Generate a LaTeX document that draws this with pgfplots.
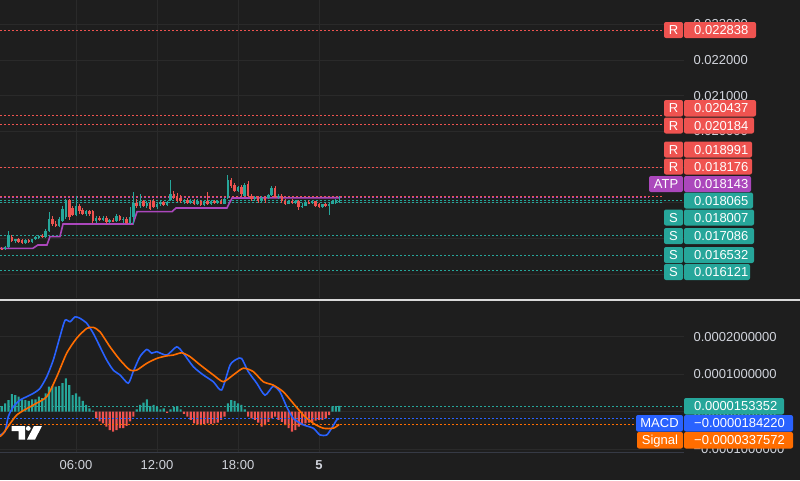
\documentclass[border=0pt]{standalone}
\usepackage{pgfplots}
\pgfplotsset{compat=1.18}
\usepackage{pgfplotstable}
\usepackage{fontspec}
\setmainfont{Liberation Sans}

\definecolor{bg}{HTML}{1E1E1E}
\definecolor{gridc}{HTML}{2A2A2A}
\definecolor{up}{HTML}{26A69A}
\definecolor{dn}{HTML}{EF5350}
\definecolor{atp}{HTML}{AB47BC}
\definecolor{macdc}{HTML}{2962FF}
\definecolor{sigc}{HTML}{FF6D00}
\definecolor{txt}{HTML}{D1D4DC}
\definecolor{sep}{HTML}{D9D9D9}
\definecolor{edge}{HTML}{363A45}

% 15 min candles: time (h), open, high, low, close, MACD histogram
\pgfplotstableread{
t o h l c m
0.50 0.016720 0.016760 0.016690 0.016700 0.000015
0.75 0.016700 0.016780 0.016690 0.016760 0.000022
1.00 0.016770 0.017220 0.016750 0.017090 0.000031
1.25 0.017040 0.017100 0.016900 0.016920 0.000047
1.50 0.016920 0.017000 0.016880 0.016980 0.000044
1.75 0.016980 0.017020 0.016880 0.016900 0.000040
2.00 0.016960 0.017000 0.016850 0.016880 0.000033
2.25 0.016880 0.016990 0.016860 0.016960 0.000031
2.50 0.016960 0.016990 0.016880 0.016910 0.000029
2.75 0.016910 0.017000 0.016890 0.016980 0.000033
3.00 0.016980 0.017080 0.016950 0.017050 0.000033
3.25 0.017020 0.017100 0.016980 0.017080 0.000040
3.50 0.017080 0.017120 0.017020 0.017050 0.000036
3.75 0.017050 0.017260 0.017030 0.017220 0.000049
4.00 0.017220 0.017740 0.017180 0.017560 0.000067
4.25 0.017560 0.017620 0.017360 0.017400 0.000068
4.50 0.017420 0.017480 0.017330 0.017360 0.000067
4.75 0.017360 0.017600 0.017330 0.017540 0.000068
5.00 0.017480 0.017900 0.017460 0.017820 0.000076
5.25 0.017600 0.018120 0.017560 0.018080 0.000089
5.50 0.018080 0.018100 0.017520 0.017600 0.000071
5.75 0.017860 0.017900 0.017620 0.017660 0.000044
6.00 0.017660 0.018180 0.017640 0.017900 0.000049
6.25 0.017900 0.017960 0.017700 0.017760 0.000040
6.50 0.017800 0.017850 0.017660 0.017700 0.000029
6.75 0.017700 0.017800 0.017640 0.017760 0.000018
7.00 0.017760 0.017800 0.017620 0.017680 0.000009
7.25 0.017760 0.017800 0.017440 0.017480 0.000003
7.50 0.017480 0.017620 0.017440 0.017580 -0.000017
7.75 0.017580 0.017640 0.017480 0.017520 -0.000026
8.00 0.017520 0.017640 0.017480 0.017580 -0.000031
8.25 0.017580 0.017620 0.017420 0.017460 -0.000040
8.50 0.017460 0.017560 0.017440 0.017520 -0.000049
8.75 0.017520 0.017580 0.017460 0.017480 -0.000053
9.00 0.017480 0.017680 0.017460 0.017640 -0.000049
9.25 0.017640 0.017660 0.017480 0.017520 -0.000044
9.50 0.017520 0.017600 0.017440 0.017560 -0.000044
9.75 0.017560 0.017600 0.017420 0.017440 -0.000038
10.00 0.017440 0.017880 0.017400 0.017600 -0.000026
10.25 0.017600 0.018300 0.017420 0.018000 -0.000013
10.50 0.018000 0.018120 0.017860 0.017900 0.000006
10.75 0.017900 0.018260 0.017860 0.018040 0.000018
11.00 0.018040 0.018080 0.017880 0.017920 0.000024
11.25 0.017920 0.018040 0.017860 0.018000 0.000033
11.50 0.018000 0.018080 0.017800 0.017840 0.000015
11.75 0.018060 0.018100 0.017860 0.017880 0.000018
12.00 0.017880 0.018000 0.017840 0.017960 0.000012
12.25 0.017960 0.018080 0.017900 0.018020 0.000006
12.50 0.018020 0.018060 0.017900 0.017940 0.000009
12.75 0.017940 0.018060 0.017900 0.018020 -0.000003
13.00 0.018080 0.018640 0.018040 0.018260 0.000006
13.25 0.018260 0.018340 0.018100 0.018140 0.000013
13.50 0.018200 0.018280 0.018020 0.018060 0.000015
13.75 0.018140 0.018220 0.018000 0.018040 0.000006
14.00 0.018040 0.018120 0.017980 0.018080 -0.000006
14.25 0.018080 0.018140 0.017960 0.018000 -0.000013
14.50 0.018000 0.018100 0.017960 0.018060 -0.000022
14.75 0.018060 0.018100 0.017940 0.017980 -0.000031
15.00 0.017980 0.018100 0.017940 0.018060 -0.000034
15.25 0.018060 0.018080 0.017900 0.017940 -0.000036
15.50 0.017940 0.018080 0.017920 0.018040 -0.000033
15.75 0.018040 0.018300 0.017940 0.017980 -0.000031
16.00 0.017980 0.018080 0.017940 0.018040 -0.000033
16.25 0.018040 0.018080 0.017960 0.018000 -0.000031
16.50 0.018000 0.018080 0.017960 0.018060 -0.000029
16.75 0.018060 0.018100 0.017960 0.017980 -0.000022
17.00 0.017980 0.018140 0.017960 0.018100 -0.000013
17.25 0.018130 0.018780 0.018100 0.018640 0.000022
17.50 0.018640 0.018700 0.018420 0.018480 0.000031
17.75 0.018500 0.018560 0.018300 0.018340 0.000029
18.00 0.018340 0.018480 0.018300 0.018440 0.000022
18.25 0.018440 0.018500 0.018200 0.018240 0.000018
18.50 0.018200 0.018560 0.018180 0.018500 0.000006
18.75 0.018520 0.018600 0.018160 0.018200 -0.000013
19.00 0.018200 0.018240 0.018060 0.018100 -0.000018
19.25 0.018100 0.018200 0.018060 0.018160 -0.000022
19.50 0.018160 0.018200 0.018000 0.018060 -0.000029
19.75 0.018060 0.018180 0.018020 0.018140 -0.000040
20.00 0.018140 0.018200 0.018000 0.018080 -0.000036
20.25 0.018140 0.018260 0.018100 0.018220 -0.000027
20.50 0.018220 0.018480 0.018200 0.018420 -0.000018
20.75 0.018420 0.018460 0.018140 0.018160 -0.000013
21.00 0.018160 0.018260 0.018120 0.018200 -0.000022
21.25 0.018200 0.018260 0.018000 0.018040 -0.000027
21.50 0.018040 0.018100 0.017940 0.017980 -0.000036
21.75 0.017980 0.018080 0.017960 0.018040 -0.000044
22.00 0.018040 0.018100 0.017980 0.018000 -0.000053
22.25 0.018000 0.018080 0.017960 0.018040 -0.000049
22.50 0.018040 0.018080 0.017800 0.017880 -0.000040
22.75 0.017900 0.018000 0.017860 0.017920 -0.000036
23.00 0.017920 0.018060 0.017900 0.018020 -0.000031
23.25 0.018020 0.018080 0.017960 0.018000 -0.000029
23.50 0.018000 0.018080 0.017960 0.018040 -0.000027
23.75 0.018040 0.018060 0.017880 0.017900 -0.000024
24.00 0.017960 0.018000 0.017860 0.017880 -0.000022
24.25 0.017880 0.017980 0.017860 0.017960 -0.000022
24.50 0.017960 0.018000 0.017880 0.017900 -0.000018
24.75 0.017900 0.018020 0.017660 0.017980 -0.000009
25.00 0.017980 0.018080 0.017960 0.018040 0.000014
25.25 0.018000 0.018100 0.017960 0.018040 0.000015
25.50 0.018040 0.018200 0.018000 0.018065 0.0000153352
}\candles

\pgfplotsset{
  lvl/.style={forget plot, line width=0.8pt, dash pattern=on 2pt off 2pt},
  wick/.style={forget plot, draw=none, mark=none,
    error bars/.cd, y dir=both, y explicit, error mark=none,
    error bar style={draw=#1, line width=0.8pt}, /pgfplots/.cd},
  body/.style={forget plot, draw=none, mark=none,
    error bars/.cd, y dir=both, y explicit, error mark=none,
    error bar style={draw=#1, line width=2.5pt}, /pgfplots/.cd},
}

\newcommand{\pricetag}[5]{%
  \fill[#1, rounded corners=2pt] (684,-#2) rectangle (#3,-#4);
  \node[anchor=west, text=white, inner sep=0pt, text height=9pt, text depth=0pt]
    at (694,{-(#2+#4)/2}) {#5};}
\newcommand{\nametag}[5]{%
  \fill[#1, rounded corners=2pt] (#2,-#3) rectangle (683,-#4);
  \node[text=white, inner sep=0pt, text height=9pt, text depth=0pt]
    at ({(#2+683)/2},{-(#3+#4)/2}) {#5};}

\begin{document}
\begin{tikzpicture}[x=1pt, y=1pt, font=\fontsize{13}{15}\selectfont]
\useasboundingbox (0,0) rectangle (800,-480);
\fill[bg] (0,0) rectangle (800,-480);

% price pane
\begin{axis}[
    at={(0pt,0pt)}, anchor=north west,
    width=684pt, height=298pt, scale only axis,
    xmin=0.37, xmax=51.04, ymin=0.015337, ymax=0.023678,
    axis line style={draw=none}, major tick length=0pt,
    xtick={6,12,18,24}, xticklabels={},
    ytick={0.016,0.017,0.018,0.019,0.020,0.021,0.022,0.023},
    yticklabels={0.016000,0.017000,0.018000,0.019000,0.020000,0.021000,0.022000,0.023000},
    yticklabel pos=right, scaled y ticks=false,
    yticklabel style={anchor=west, xshift=6pt, text=txt, font=\fontsize{13}{15}\selectfont},
    grid=major, grid style={gridc, line width=0.8pt},
  ]
  % support / resistance levels
  \addplot[lvl, dn] coordinates {(0.37,0.022838) (49.41,0.022838)};
  \addplot[lvl, dn] coordinates {(0.37,0.020437) (49.41,0.020437)};
  \addplot[lvl, dn] coordinates {(0.37,0.020184) (49.41,0.020184)};
  \addplot[lvl, dn] coordinates {(0.37,0.018991) (49.41,0.018991)};
  \addplot[lvl, dn] coordinates {(0.37,0.018176) (49.41,0.018176)};
  \addplot[lvl, atp] coordinates {(0.37,0.018143) (48.44,0.018143)};
  \addplot[lvl, up] coordinates {(0.37,0.018065) (51.04,0.018065)};
  \addplot[lvl, up] coordinates {(0.37,0.018007) (49.41,0.018007)};
  \addplot[lvl, up] coordinates {(0.37,0.017086) (49.41,0.017086)};
  \addplot[lvl, up] coordinates {(0.37,0.016532) (49.41,0.016532)};
  \addplot[lvl, up] coordinates {(0.37,0.016121) (49.41,0.016121)};

  % ATP line
  \addplot[atp, line width=1.6pt, forget plot] coordinates {
    (0.37,0.016728) (2.81,0.016728) (3.18,0.016821) (3.85,0.016821)
    (4.07,0.017055) (4.81,0.017055) (5.04,0.017408) (10.22,0.017408)
    (10.52,0.017753) (13.11,0.017753) (13.41,0.017857) (17.18,0.017857)
    (17.56,0.018136) (25.56,0.018143)};

  % candles
  \addplot[restrict expr to domain={\thisrow{c}-\thisrow{o}}{0:1}, wick=up]
    table[x=t, y expr={(\thisrow{h}+\thisrow{l})/2}, y error expr={(\thisrow{h}-\thisrow{l})/2}] {\candles};
  \addplot[restrict expr to domain={\thisrow{o}-\thisrow{c}}{0.0000001:1}, wick=dn]
    table[x=t, y expr={(\thisrow{h}+\thisrow{l})/2}, y error expr={(\thisrow{h}-\thisrow{l})/2}] {\candles};
  \addplot[restrict expr to domain={\thisrow{c}-\thisrow{o}}{0:1}, body=up]
    table[x=t, y expr={(\thisrow{o}+\thisrow{c})/2}, y error expr={max(abs(\thisrow{c}-\thisrow{o})/2,0.000005)}] {\candles};
  \addplot[restrict expr to domain={\thisrow{o}-\thisrow{c}}{0.0000001:1}, body=dn]
    table[x=t, y expr={(\thisrow{o}+\thisrow{c})/2}, y error expr={max(abs(\thisrow{c}-\thisrow{o})/2,0.000005)}] {\candles};
\end{axis}

% MACD pane
\begin{axis}[
    at={(0pt,-301pt)}, anchor=north west,
    width=684pt, height=151pt, scale only axis,
    xmin=0.37, xmax=51.04, ymin=-0.0001075, ymax=0.0002952,
    axis line style={draw=none}, major tick length=0pt,
    xtick={6,12,18,24}, xticklabels={06:00,12:00,18:00,\textbf{5}},
    xticklabel style={text=txt, yshift=-5pt, font=\fontsize{13}{15}\selectfont},
    ytick={-0.0001,0,0.0001,0.0002},
    yticklabels={−0.0001000000,0.0000000000,0.0001000000,0.0002000000},
    yticklabel pos=right, scaled y ticks=false,
    yticklabel style={anchor=west, xshift=6pt, text=txt, font=\fontsize{13}{15}\selectfont},
    grid=major, grid style={gridc, line width=0.8pt},
  ]
  \addplot[ybar, bar width=2.2pt, bar shift=0pt, fill=up, draw=none, forget plot,
    restrict y to domain=0:1] table[x=t, y=m] {\candles};
  \addplot[ybar, bar width=2.2pt, bar shift=0pt, fill=dn, draw=none, forget plot,
    restrict y to domain=-1:0] table[x=t, y=m] {\candles};

  \addplot[lvl, up] coordinates {(0.37,0.0000153352) (51.04,0.0000153352)};
  \addplot[lvl, macdc] coordinates {(0.37,-0.0000184220) (47.48,-0.0000184220)};
  \addplot[lvl, sigc] coordinates {(0.37,-0.0000337572) (47.48,-0.0000337572)};

  % MACD line
  \addplot[macdc, line width=1.6pt, smooth, tension=0.4, forget plot] coordinates {
    (0.37,-0.000062) (0.74,-0.000053) (0.985,-0.000013) (1.355,0.000013)
    (1.85,0.000031) (2.35,0.000040) (2.84,0.000049) (3.33,0.000062)
    (3.83,0.000093) (4.32,0.000138) (4.81,0.000200) (5.19,0.000244)
    (5.56,0.000240) (5.93,0.000253) (6.3,0.000249) (6.79,0.000236)
    (7.28,0.000209) (7.78,0.000173) (8.27,0.000138) (8.76,0.000111)
    (9.26,0.000098) (9.87,0.000076) (10.24,0.000107) (10.74,0.000147)
    (11.24,0.000166) (11.61,0.000156) (11.98,0.000160) (12.72,0.000151)
    (13.46,0.000173) (13.95,0.000156) (14.69,0.000120) (15.43,0.000098)
    (16.17,0.000080) (16.79,0.000058) (17.41,0.000124) (17.9,0.000140)
    (18.27,0.000142) (18.76,0.000107) (19.39,0.000076) (20.0,0.000044)
    (20.61,0.000068) (21.11,0.000053) (21.61,0.000013) (22.1,-0.000018)
    (22.84,-0.000035) (23.58,-0.000044) (24.07,-0.000062) (24.57,-0.000062)
    (24.94,-0.000044) (25.31,-0.000022) (25.5,-0.0000184)};
  % signal line
  \addplot[sigc, line width=1.6pt, smooth, tension=0.4, forget plot] coordinates {
    (0.37,-0.000066) (0.61,-0.000058) (1.61,-0.000009) (2.84,0.000018)
    (3.83,0.000040) (4.57,0.000093) (5.31,0.000156) (6.05,0.000196)
    (6.79,0.000222) (7.28,0.000225) (7.78,0.000213) (8.52,0.000173)
    (9.26,0.000138) (10.0,0.000111) (10.5,0.000111) (11.24,0.000129)
    (11.98,0.000142) (12.72,0.000149) (13.21,0.000151) (13.83,0.000157)
    (14.44,0.000147) (15.19,0.000125) (16.17,0.000098) (16.91,0.000080)
    (17.65,0.000098) (18.39,0.000116) (19.13,0.000107) (19.87,0.000080)
    (20.61,0.000071) (21.36,0.000053) (22.1,0.000022) (22.84,-0.000009)
    (23.58,-0.000031) (24.32,-0.000044) (25.06,-0.000044) (25.5,-0.0000338)};
\end{axis}

% pane separator and bottom edge
\draw[sep, line width=1.2pt] (0,-300) -- (800,-300);
\draw[edge, line width=1pt] (0,-452) -- (684,-452);

% price scale tags
\nametag{dn}{664}{22}{38}{R}        \pricetag{dn}{22}{756}{38}{0.022838}
\nametag{dn}{664}{100}{116.5}{R}    \pricetag{dn}{100}{756}{116.5}{0.020437}
\nametag{dn}{664}{117.5}{133.5}{R}  \pricetag{dn}{117.5}{754}{133.5}{0.020184}
\nametag{dn}{664}{141.5}{157.5}{R}  \pricetag{dn}{141.5}{752}{157.5}{0.018991}
\nametag{dn}{664}{158.5}{174.5}{R}  \pricetag{dn}{158.5}{752}{174.5}{0.018176}
\nametag{atp}{649}{176}{192}{ATP}   \pricetag{atp}{176}{751}{192}{0.018143}
\pricetag{up}{192.5}{753}{208.5}{0.018065}
\nametag{up}{664}{209.5}{225.5}{S}  \pricetag{up}{209.5}{754}{225.5}{0.018007}
\nametag{up}{664}{228}{244}{S}      \pricetag{up}{228}{754}{244}{0.017086}
\nametag{up}{664}{247}{263}{S}      \pricetag{up}{247}{754}{263}{0.016532}
\nametag{up}{664}{264}{280}{S}      \pricetag{up}{264}{750}{280}{0.016121}

% MACD tags
\pricetag{up}{398}{784}{414.5}{0.0000153352}
\nametag{macdc}{636}{415}{431.5}{MACD}   \pricetag{macdc}{415}{793}{431.5}{−0.0000184220}
\nametag{sigc}{637}{432}{448.5}{Signal}  \pricetag{sigc}{432}{793}{448.5}{−0.0000337572}

% logo
\fill[white] (11.7,-426) -- (25,-426) -- (25,-439.5) -- (18.5,-439.5) -- (18.5,-431) -- (11.7,-431) -- cycle;
\fill[white] (28.3,-428.4) circle (2.4);
\fill[white] (34,-426) -- (42,-426) -- (35,-439.5) -- (27,-439.5) -- cycle;
\end{tikzpicture}
\end{document}
